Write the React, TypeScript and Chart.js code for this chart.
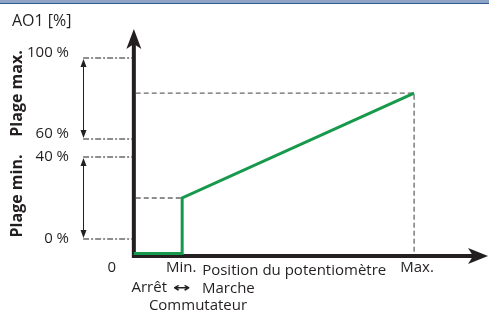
import { useEffect, useRef } from 'react';
import { Chart, registerables } from 'chart.js';

Chart.register(...registerables);

// Schematic units: x = potentiometer position (0 = origin, 10 = Min., 58 = Max.)
// y = output level (0 = x-axis, 100 = "100 %" mark)
const curveX = [0, 10, 10, 58];
const curveY = [1.2, 1.2, 29.3, 82.3];
const rangeLabels = ['100 %', '60 %', '40 %', '0 %'];
const rangeLevels = [100, 59.1, 50, 8.6];
const rangeNames = ['Plage max.', 'Plage min.'];
const xTickLabels = ['0', 'Min.', 'Max.'];
const xTickValues = [0, 10, 58];
const yAxisTitle = 'AO1 [%]';
const xAxisTitle = 'Position du potentiomètre';
const switchLabels = ['Arrêt', '↔', 'Marche'];
const switchTitle = 'Commutateur';

const bracketX = -10.5;
const yTip = 114.6;
const xTip = 73.3;

const INK = '#231f20';
const GREEN = '#16994a';
const GUIDE = '#6a6a6a';
const FONT = '"Open Sans", "DejaVu Sans", sans-serif';

const diagramPlugin = {
  id: 'diagram',
  beforeDatasetsDraw(chart: any) {
    const { ctx } = chart;
    const xs = chart.scales.x;
    const ys = chart.scales.y;
    ctx.save();
    // top border band
    ctx.fillStyle = '#8ea3c6';
    ctx.fillRect(0, 0, chart.width, 3);
    ctx.fillStyle = '#2f5f91';
    ctx.fillRect(0, 3, chart.width, 1);

    const ox = xs.getPixelForValue(0);
    const oy = ys.getPixelForValue(0);
    const topY = ys.getPixelForValue(yTip);
    const rightX = xs.getPixelForValue(xTip);

    ctx.strokeStyle = INK;
    ctx.lineWidth = 4;
    ctx.lineJoin = 'miter';
    ctx.lineCap = 'butt';
    ctx.beginPath();
    ctx.moveTo(ox, topY + 14);
    ctx.lineTo(ox, oy);
    ctx.lineTo(rightX - 14, oy);
    ctx.stroke();

    ctx.fillStyle = INK;
    ctx.beginPath();
    ctx.moveTo(ox, topY);
    ctx.lineTo(ox - 7.5, topY + 20);
    ctx.lineTo(ox, topY + 15);
    ctx.lineTo(ox + 7.5, topY + 20);
    ctx.closePath();
    ctx.fill();

    ctx.beginPath();
    ctx.moveTo(rightX, oy);
    ctx.lineTo(rightX - 20, oy - 8);
    ctx.lineTo(rightX - 15, oy);
    ctx.lineTo(rightX - 20, oy + 8);
    ctx.closePath();
    ctx.fill();

    // double-headed brackets
    const bx = Math.round(xs.getPixelForValue(bracketX)) + 0.5;
    ctx.lineWidth = 1;
    for (let i = 0; i < 2; i++) {
      const y1 = ys.getPixelForValue(rangeLevels[i * 2]) + 1;
      const y2 = ys.getPixelForValue(rangeLevels[i * 2 + 1]) - 1;
      ctx.beginPath();
      ctx.moveTo(bx, y1 + 4);
      ctx.lineTo(bx, y2 - 4);
      ctx.stroke();
      ctx.beginPath();
      ctx.moveTo(bx, y1);
      ctx.lineTo(bx - 3, y1 + 8);
      ctx.lineTo(bx + 3, y1 + 8);
      ctx.closePath();
      ctx.fill();
      ctx.beginPath();
      ctx.moveTo(bx, y2);
      ctx.lineTo(bx - 3, y2 - 8);
      ctx.lineTo(bx + 3, y2 - 8);
      ctx.closePath();
      ctx.fill();
    }
    ctx.restore();
  },
  afterDraw(chart: any) {
    const { ctx } = chart;
    const xs = chart.scales.x;
    const ys = chart.scales.y;
    const ox = xs.getPixelForValue(0);
    const oy = ys.getPixelForValue(0);
    ctx.save();
    ctx.fillStyle = INK;
    ctx.textBaseline = 'middle';

    ctx.textAlign = 'left';
    ctx.font = `16px ${FONT}`;
    ctx.fillText(yAxisTitle, 12, 21);
    ctx.font = `15px ${FONT}`;

    // range level labels
    ctx.textAlign = 'right';
    const offs = [-5, -5, 0, 0];
    rangeLabels.forEach((t, i) => {
      ctx.fillText(t, 69, ys.getPixelForValue(rangeLevels[i]) + offs[i]);
    });

    // x tick labels
    ctx.textAlign = 'center';
    const tickY = oy + 12;
    ctx.fillText(xTickLabels[0], ox - 22, tickY);
    ctx.fillText(xTickLabels[1], xs.getPixelForValue(xTickValues[1]) - 1, tickY);
    ctx.fillText(xTickLabels[2], xs.getPixelForValue(xTickValues[2]) + 3, tickY);

    ctx.textAlign = 'left';
    ctx.fillText(xAxisTitle, xs.getPixelForValue(xTickValues[1]) + 20, oy + 15);

    // switch labels
    ctx.textAlign = 'right';
    ctx.fillText(switchLabels[0], 167, oy + 32);
    ctx.textAlign = 'left';
    ctx.fillText(switchLabels[2], 202, oy + 33);
    ctx.textAlign = 'center';
    ctx.fillText(switchTitle, 198, oy + 50);
    // arrow glyph, stretched horizontally
    ctx.save();
    ctx.font = `bold 13px "DejaVu Sans", sans-serif`;
    ctx.translate(182, oy + 33);
    ctx.scale(1.6, 1);
    ctx.fillText(switchLabels[1], 0, 0);
    ctx.restore();

    // rotated range names
    ctx.font = `bold 16px ${FONT}`;
    const nameOffs = [-5, -2];
    for (let i = 0; i < 2; i++) {
      const cy = (ys.getPixelForValue(rangeLevels[i * 2]) + ys.getPixelForValue(rangeLevels[i * 2 + 1])) / 2 + nameOffs[i];
      ctx.save();
      ctx.translate(17, cy);
      ctx.rotate(-Math.PI / 2);
      ctx.textAlign = 'center';
      ctx.fillText(rangeNames[i], 0, 0);
      ctx.restore();
    }
    ctx.restore();
  },
};

export default function App() {
  const ref = useRef<HTMLCanvasElement | null>(null);
  useEffect(() => {
    if (!ref.current) return;
    const dashDot = [6, 2, 2, 2];
    const leftGuides = rangeLevels.map((lv) => ({
      data: [
        { x: bracketX, y: lv },
        { x: -0.4, y: lv },
      ],
      borderColor: GUIDE,
      borderWidth: 1.4,
      borderDash: dashDot,
      pointRadius: 0,
      fill: false,
    }));
    const chart = new Chart(ref.current, {
      type: 'line',
      data: {
        datasets: [
          {
            data: curveX.map((x, i) => ({ x, y: curveY[i] })),
            borderColor: GREEN,
            borderWidth: 3,
            pointRadius: 0,
            tension: 0,
            fill: false,
            borderJoinStyle: 'miter',
          },
          {
            data: [
              { x: 0.4, y: curveY[3] },
              { x: curveX[3], y: curveY[3] },
              { x: curveX[3], y: 1 },
            ],
            borderColor: GUIDE,
            borderWidth: 1.3,
            borderDash: [5, 3],
            pointRadius: 0,
            fill: false,
          },
          {
            data: [
              { x: 0.4, y: curveY[2] },
              { x: curveX[2], y: curveY[2] },
            ],
            borderColor: GUIDE,
            borderWidth: 1.3,
            borderDash: [5, 3],
            pointRadius: 0,
            fill: false,
          },
          ...leftGuides,
        ] as any,
      },
      options: {
        animation: false,
        responsive: false,
        layout: { padding: 0 },
        plugins: { legend: { display: false }, tooltip: { enabled: false } },
        events: [],
        scales: {
          x: { type: 'linear', display: false, min: -27.7, max: 73.5 },
          y: { type: 'linear', display: false, min: -28.8, max: 129.3 },
        },
      },
      plugins: [diagramPlugin],
    });
    return () => chart.destroy();
  }, []);
  return (
    <div style={{ position: 'absolute', left: 0, top: 0, width: 489, height: 313, background: '#fff' }}>
      <canvas ref={ref} width={489} height={313} />
    </div>
  );
}
